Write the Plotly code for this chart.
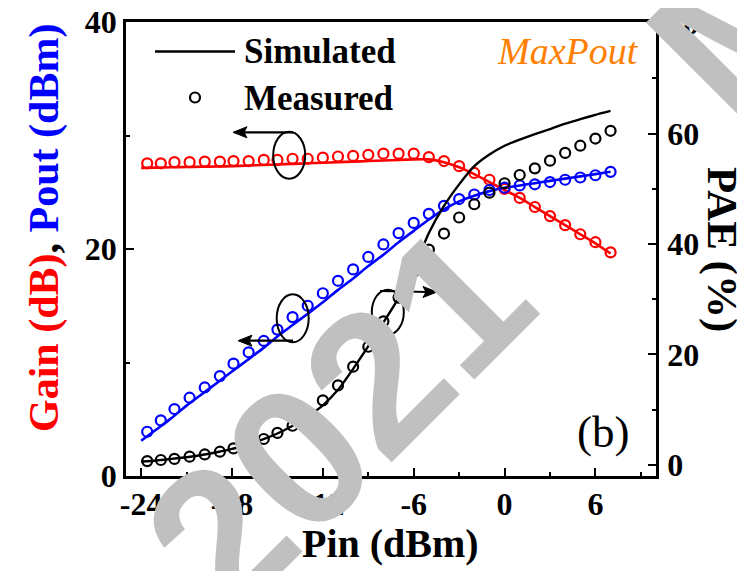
import plotly.graph_objects as go

# ---------------- data ----------------
pin_meas = [-23.6, -22.7, -21.8, -20.8, -19.8, -18.8, -17.9, -16.9, -15.9, -15.0,
            -14.0, -13.0, -12.0, -11.0, -10.0, -9.0, -8.0, -7.0, -6.0, -5.0,
            -4.0, -3.0, -2.0, -1.0, 0.0, 1.0, 2.0, 3.0, 4.0, 5.0, 6.0, 7.0]
gain_meas = [27.55, 27.55, 27.65, 27.65, 27.7, 27.7, 27.75, 27.75, 27.85, 27.85,
             27.95, 27.95, 28.05, 28.15, 28.2, 28.3, 28.4, 28.4, 28.4, 28.1,
             27.75, 27.3, 26.7, 26.1, 25.3, 24.5, 23.7, 22.9, 22.1, 21.3, 20.6, 19.7]
pout_meas = [3.9, 4.9, 5.9, 6.9, 7.8, 8.8, 9.9, 10.9, 11.9, 12.9,
             14.0, 15.0, 16.1, 17.2, 18.2, 19.3, 20.4, 21.4, 22.3, 23.1,
             23.8, 24.4, 24.8, 25.2, 25.4, 25.6, 25.7, 25.9, 26.1, 26.3, 26.5, 26.8]
pae_meas = [0.7, 0.9, 1.1, 1.5, 1.9, 2.4, 3.0, 3.8, 4.7, 5.8,
            7.1, 9.2, 11.7, 14.4, 17.8, 21.4, 26.0, 30.3, 35.0, 39.0,
            41.9, 44.8, 47.2, 49.3, 51.0, 52.5, 53.7, 55.1, 56.5, 57.8, 59.1, 60.5]

pin_sim = [-24, -23, -22, -21, -20, -19, -18, -17, -16, -15, -14, -13, -12, -11, -10, -9,
           -8, -7, -6, -5, -4, -3, -2, -1, 0, 1, 2, 3, 4, 5, 6, 7]
gain_sim = [27.15, 27.17, 27.2, 27.22, 27.25, 27.27, 27.3, 27.35, 27.4, 27.45, 27.5, 27.55,
            27.6, 27.65, 27.7, 27.75, 27.8, 27.85, 27.9, 27.9, 27.65, 27.2, 26.6, 25.9,
            25.2, 24.5, 23.7, 22.9, 22.1, 21.3, 20.5, 19.6]
pout_sim = [3.1, 4.1, 5.1, 6.2, 7.2, 8.2, 9.2, 10.2, 11.2, 12.3, 13.3, 14.3,
            15.3, 16.4, 17.4, 18.5, 19.5, 20.6, 21.6, 22.6, 23.5, 24.2, 24.7, 25.1,
            25.4, 25.6, 25.8, 26.0, 26.2, 26.4, 26.6, 26.8]
pae_sim = [0.6, 0.8, 1.1, 1.4, 1.8, 2.3, 2.9, 3.7, 4.6, 5.7, 7.1, 8.8,
           10.8, 13.6, 17.4, 21.5, 25.8, 30.2, 35.6, 42.0, 46.9, 50.8, 54.1, 56.2,
           57.8, 58.9, 59.9, 60.8, 61.8, 62.6, 63.4, 64.1]

x_tickvals = [-24, -18, -12, -6, 0, 6]
x_ticktext = ["-24", "-18", "-12", "-6", "0", "6"]
x_minor = [-21, -15, -9, -3, 3, 9]
y_tickvals = [0, 20, 40]
y_minor = [10, 30]
y2_tickvals = [0, 20, 40, 60, 80]
y2_minor = [10, 30, 50, 70]

# ---------------- geometry ----------------
W, H = 745, 571
OFF = 8                      # page body margin of the html page
L, T = 126 - OFF, 22 - OFF   # plot area top-left in figure pixels
PW, PH = 530, 454
R, B = W - L - PW, H - T - PH


def P(sx, sy):
    """screen pixel -> paper coordinates"""
    fx, fy = sx - OFF, sy - OFF
    return (fx - L) / PW, (T + PH - fy) / PH


SERIF = "Liberation Serif"
RED, BLUE, BLACK = "#ff0000", "#0000ff", "#000000"

fig = go.Figure()

# simulated lines
fig.add_trace(go.Scatter(x=pin_sim, y=gain_sim, mode="lines",
                         line=dict(color=RED, width=2.6, shape="spline", smoothing=0.5),
                         showlegend=False))
fig.add_trace(go.Scatter(x=pin_sim, y=pout_sim, mode="lines",
                         line=dict(color=BLUE, width=2.6, shape="spline", smoothing=0.5),
                         showlegend=False))
fig.add_trace(go.Scatter(x=pin_sim, y=pae_sim, mode="lines", yaxis="y2",
                         line=dict(color=BLACK, width=2.4, shape="spline", smoothing=0.5),
                         showlegend=False))
# measured circles
mk = dict(symbol="circle-open", size=10, line=dict(width=2.2))
fig.add_trace(go.Scatter(x=pin_meas, y=gain_meas, mode="markers",
                         marker=dict(color=RED, **mk), showlegend=False))
fig.add_trace(go.Scatter(x=pin_meas, y=pout_meas, mode="markers",
                         marker=dict(color=BLUE, **mk), showlegend=False))
fig.add_trace(go.Scatter(x=pin_meas, y=pae_meas, mode="markers", yaxis="y2",
                         marker=dict(color=BLACK, **mk), showlegend=False))

shapes = []
annotations = []


def line_px(x0, y0, x1, y1, width=2.4, color=BLACK):
    a, b = P(x0, y0)
    c, d = P(x1, y1)
    shapes.append(dict(type="line", xref="paper", yref="paper", x0=a, y0=b, x1=c, y1=d,
                       line=dict(color=color, width=width)))


def ellipse_px(cx, cy, w, h, width=2.0):
    a, b = P(cx - w / 2, cy + h / 2)
    c, d = P(cx + w / 2, cy - h / 2)
    shapes.append(dict(type="circle", xref="paper", yref="paper", x0=a, y0=b, x1=c, y1=d,
                       line=dict(color=BLACK, width=width)))


def head_px(tx, ty, direction):
    bx = tx - direction * 14
    pts = [P(tx, ty), P(bx, ty - 5.5), P(bx + direction * 3, ty), P(bx, ty + 5.5)]
    path = "M " + " L ".join(f"{x:.5f},{y:.5f}" for x, y in pts) + " Z"
    shapes.append(dict(type="path", xref="paper", yref="paper", path=path,
                       fillcolor=BLACK, line=dict(color=BLACK, width=1)))


def text_px(cx, cy, txt, size, color=BLACK, family=SERIF, weight="bold", style="normal",
            xanchor="center", angle=0):
    x, y = P(cx, cy)
    annotations.append(dict(xref="paper", yref="paper", x=x, y=y, text=txt, showarrow=False,
                            xanchor=xanchor, yanchor="middle", textangle=angle,
                            font=dict(family=family, size=size, color=color,
                                      weight=weight, style=style)))


# legend
line_px(155, 51.5, 235, 51.5, width=2.6)
ellipse_px(195, 97.5, 10, 10, width=2.2)
text_px(242, 51.5, "Simulated", 35, xanchor="left")
text_px(242, 98.5, "Measured", 35, xanchor="left")

# MaxPout and (b)
text_px(495, 51, "MaxPout", 38, color="#ff8000", weight="normal", style="italic",
        xanchor="left")
text_px(603, 432, "(b)", 45, weight="normal")

# ellipses + arrows
ellipse_px(289.2, 155.3, 32, 47)
line_px(293, 132.3, 240, 132.3, width=2.2)
head_px(233, 132.3, -1)

ellipse_px(292.7, 318.3, 32, 48)
line_px(293, 340.7, 245, 340.7, width=2.2)
head_px(238, 340.7, -1)

ellipse_px(387.8, 312.2, 32, 45)
line_px(380, 291, 428, 292, width=2.2)
head_px(437, 292, 1)

# axis titles
text_px(390, 543, "Pin (dBm)", 40)
text_px(44, 228, '<span style="color:#ff0000">Gain (dB)</span>, '
                 '<span style="color:#0000ff">Pout (dBm)</span>', 42, angle=-90)
text_px(722, 249, "PAE (%)", 43, angle=90)

# watermark (drawn last, on top)
text_px(337, 418, "2021", 200, color="#c0c0c0", family="Liberation Sans",
        weight="bold", angle=-45)
text_px(743, 21, "M", 200, color="#c0c0c0", family="Liberation Sans",
        weight="bold", angle=-45)

tickfont = dict(family=SERIF, size=32, color=BLACK, weight="bold")
axis_common = dict(showline=True, linecolor=BLACK, linewidth=2.5, showgrid=False,
                   zeroline=False, ticks="inside", ticklen=8, tickwidth=2.2,
                   tickcolor=BLACK, tickfont=tickfont, ticklabeloverflow="allow")

fig.update_layout(
    width=W, height=H,
    margin=dict(l=L, r=R, t=T, b=B, pad=0),
    paper_bgcolor="white", plot_bgcolor="white",
    showlegend=False,
    xaxis=dict(range=[-25, 10], tickvals=x_tickvals, ticktext=x_ticktext, mirror=True,
               minor=dict(tickvals=x_minor, ticks="inside", ticklen=4, tickwidth=2,
                          tickcolor=BLACK),
               ticklabelstandoff=-2, automargin=False, **axis_common),
    yaxis=dict(range=[0, 40], tickvals=y_tickvals,
               minor=dict(tickvals=y_minor, ticks="inside", ticklen=4, tickwidth=2,
                          tickcolor=BLACK),
               ticklabelstandoff=0, automargin=False, **axis_common),
    yaxis2=dict(range=[-2, 80.2], overlaying="y", side="right", tickvals=y2_tickvals,
                minor=dict(tickvals=y2_minor, ticks="inside", ticklen=4, tickwidth=2,
                           tickcolor=BLACK),
                ticklabelstandoff=2, automargin=False, **axis_common),
    shapes=shapes,
    annotations=annotations,
)

fig.write_html("out.html")
